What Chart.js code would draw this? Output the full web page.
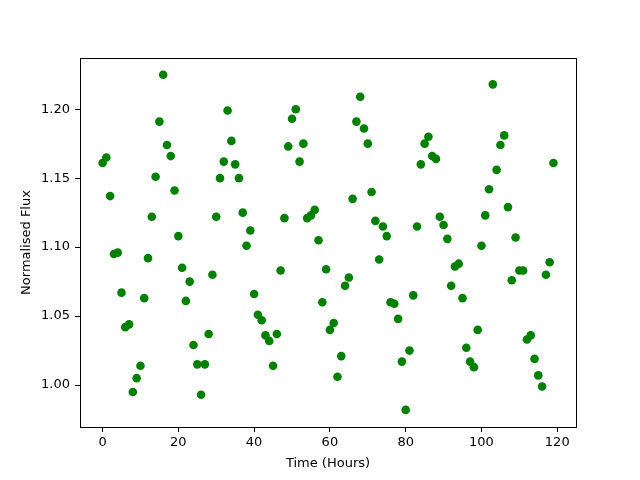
<!DOCTYPE html>
<html>
<head>
<meta charset="utf-8">
<script src="https://cdn.jsdelivr.net/npm/chart.js@4/dist/chart.umd.min.js"></script>
<style>
  html, body { margin: 0; padding: 0; background: #fff; }
  #wrap { width: 640px; height: 480px; }
</style>
</head>
<body>
<div id="wrap"><canvas id="fluxChart" width="640" height="480"></canvas></div>
<script>
// Observation hours (one reading per hour)
const hours = [
  0, 1, 2, 3, 4, 5, 6, 7, 8, 9, 10, 11, 12, 13, 14, 15, 16, 17, 18, 19,
  20, 21, 22, 23, 24, 25, 26, 27, 28, 29, 30, 31, 32, 33, 34, 35, 36, 37, 38, 39,
  40, 41, 42, 43, 44, 45, 46, 47, 48, 49, 50, 51, 52, 53, 54, 55, 56, 57, 58, 59,
  60, 61, 62, 63, 64, 65, 66, 67, 68, 69, 70, 71, 72, 73, 74, 75, 76, 77, 78, 79,
  80, 81, 82, 83, 84, 85, 86, 87, 88, 89, 90, 91, 92, 93, 94, 95, 96, 97, 98, 99,
  100, 101, 102, 103, 104, 105, 106, 107, 108, 109, 110, 111, 112, 113, 114, 115, 116, 117, 118, 119
];

// Normalised flux
const flux = [
  1.161, 1.165, 1.137, 1.095, 1.096, 1.067, 1.042, 1.044, 0.995, 1.005,
  1.014, 1.063, 1.092, 1.122, 1.151, 1.191, 1.225, 1.174, 1.166, 1.141,
  1.108, 1.085, 1.061, 1.075, 1.029, 1.015, 0.993, 1.015, 1.037, 1.080,
  1.122, 1.150, 1.162, 1.199, 1.177, 1.160, 1.150, 1.125, 1.101, 1.112,
  1.066, 1.051, 1.047, 1.036, 1.032, 1.014, 1.037, 1.083, 1.121, 1.173,
  1.193, 1.200, 1.162, 1.175, 1.121, 1.123, 1.127, 1.105, 1.060, 1.084,
  1.040, 1.045, 1.006, 1.021, 1.072, 1.078, 1.135, 1.191, 1.209, 1.186,
  1.175, 1.140, 1.119, 1.091, 1.115, 1.108, 1.060, 1.059, 1.048, 1.017,
  0.982, 1.025, 1.065, 1.115, 1.160, 1.175, 1.180, 1.166, 1.164, 1.122,
  1.116, 1.106, 1.072, 1.086, 1.088, 1.063, 1.027, 1.017, 1.013, 1.040,
  1.101, 1.123, 1.142, 1.218, 1.156, 1.174, 1.181, 1.129, 1.076, 1.107,
  1.083, 1.083, 1.033, 1.036, 1.019, 1.007, 0.999, 1.080, 1.089, 1.161
];

const xTicks = [0, 20, 40, 60, 80, 100, 120];
const yTicks = [1.00, 1.05, 1.10, 1.15, 1.20];

const FONT = { family: '"DejaVu Sans", sans-serif', size: 13 };

// Draws the full black frame around the plot area (matplotlib style)
const frameBox = {
  id: 'frameBox',
  afterDraw(chart) {
    const { ctx, chartArea: a } = chart;
    ctx.save();
    ctx.strokeStyle = '#000';
    ctx.lineWidth = 1;
    ctx.strokeRect(a.left + 0.5, a.top + 0.5, a.right - a.left, a.bottom - a.top);
    ctx.restore();
  }
};

new Chart(document.getElementById('fluxChart'), {
  type: 'scatter',
  data: {
    datasets: [{
      data: hours.map((h, i) => ({ x: h, y: flux[i] })),
      backgroundColor: '#008000',
      borderColor: '#008000',
      borderWidth: 0,
      pointRadius: 4.3,
      pointHoverRadius: 4.3
    }]
  },
  options: {
    responsive: false,
    animation: false,
    layout: { padding: { left: 0, right: 64, top: 58, bottom: 0 } },
    plugins: {
      legend: { display: false },
      tooltip: { enabled: false }
    },
    scales: {
      x: {
        type: 'linear',
        min: -5.95,
        max: 124.95,
        afterBuildTicks: (scale) => { scale.ticks = xTicks.map((v) => ({ value: v })); },
        afterFit: (scale) => { scale.height = 53; },
        grid: { drawOnChartArea: false, drawTicks: true, tickLength: 5, tickColor: '#000' },
        border: { color: '#000', width: 1 },
        ticks: { color: '#000', font: FONT, padding: 3, maxRotation: 0 },
        title: { display: true, text: 'Time (Hours)', color: '#000', font: FONT, padding: { top: 0, bottom: 9 } }
      },
      y: {
        type: 'linear',
        min: 0.9696,
        max: 1.2371,
        afterBuildTicks: (scale) => { scale.ticks = yTicks.map((v) => ({ value: v })); },
        afterFit: (scale) => { scale.width = 80; },
        grid: { drawOnChartArea: false, drawTicks: true, tickLength: 5, tickColor: '#000' },
        border: { color: '#000', width: 1 },
        ticks: { color: '#000', font: FONT, padding: 5, callback: (v) => Number(v).toFixed(2) },
        title: { display: true, text: 'Normalised Flux', color: '#000', font: FONT, padding: { top: 19, bottom: 0 } }
      }
    }
  },
  plugins: [frameBox]
});
</script>
</body>
</html>
